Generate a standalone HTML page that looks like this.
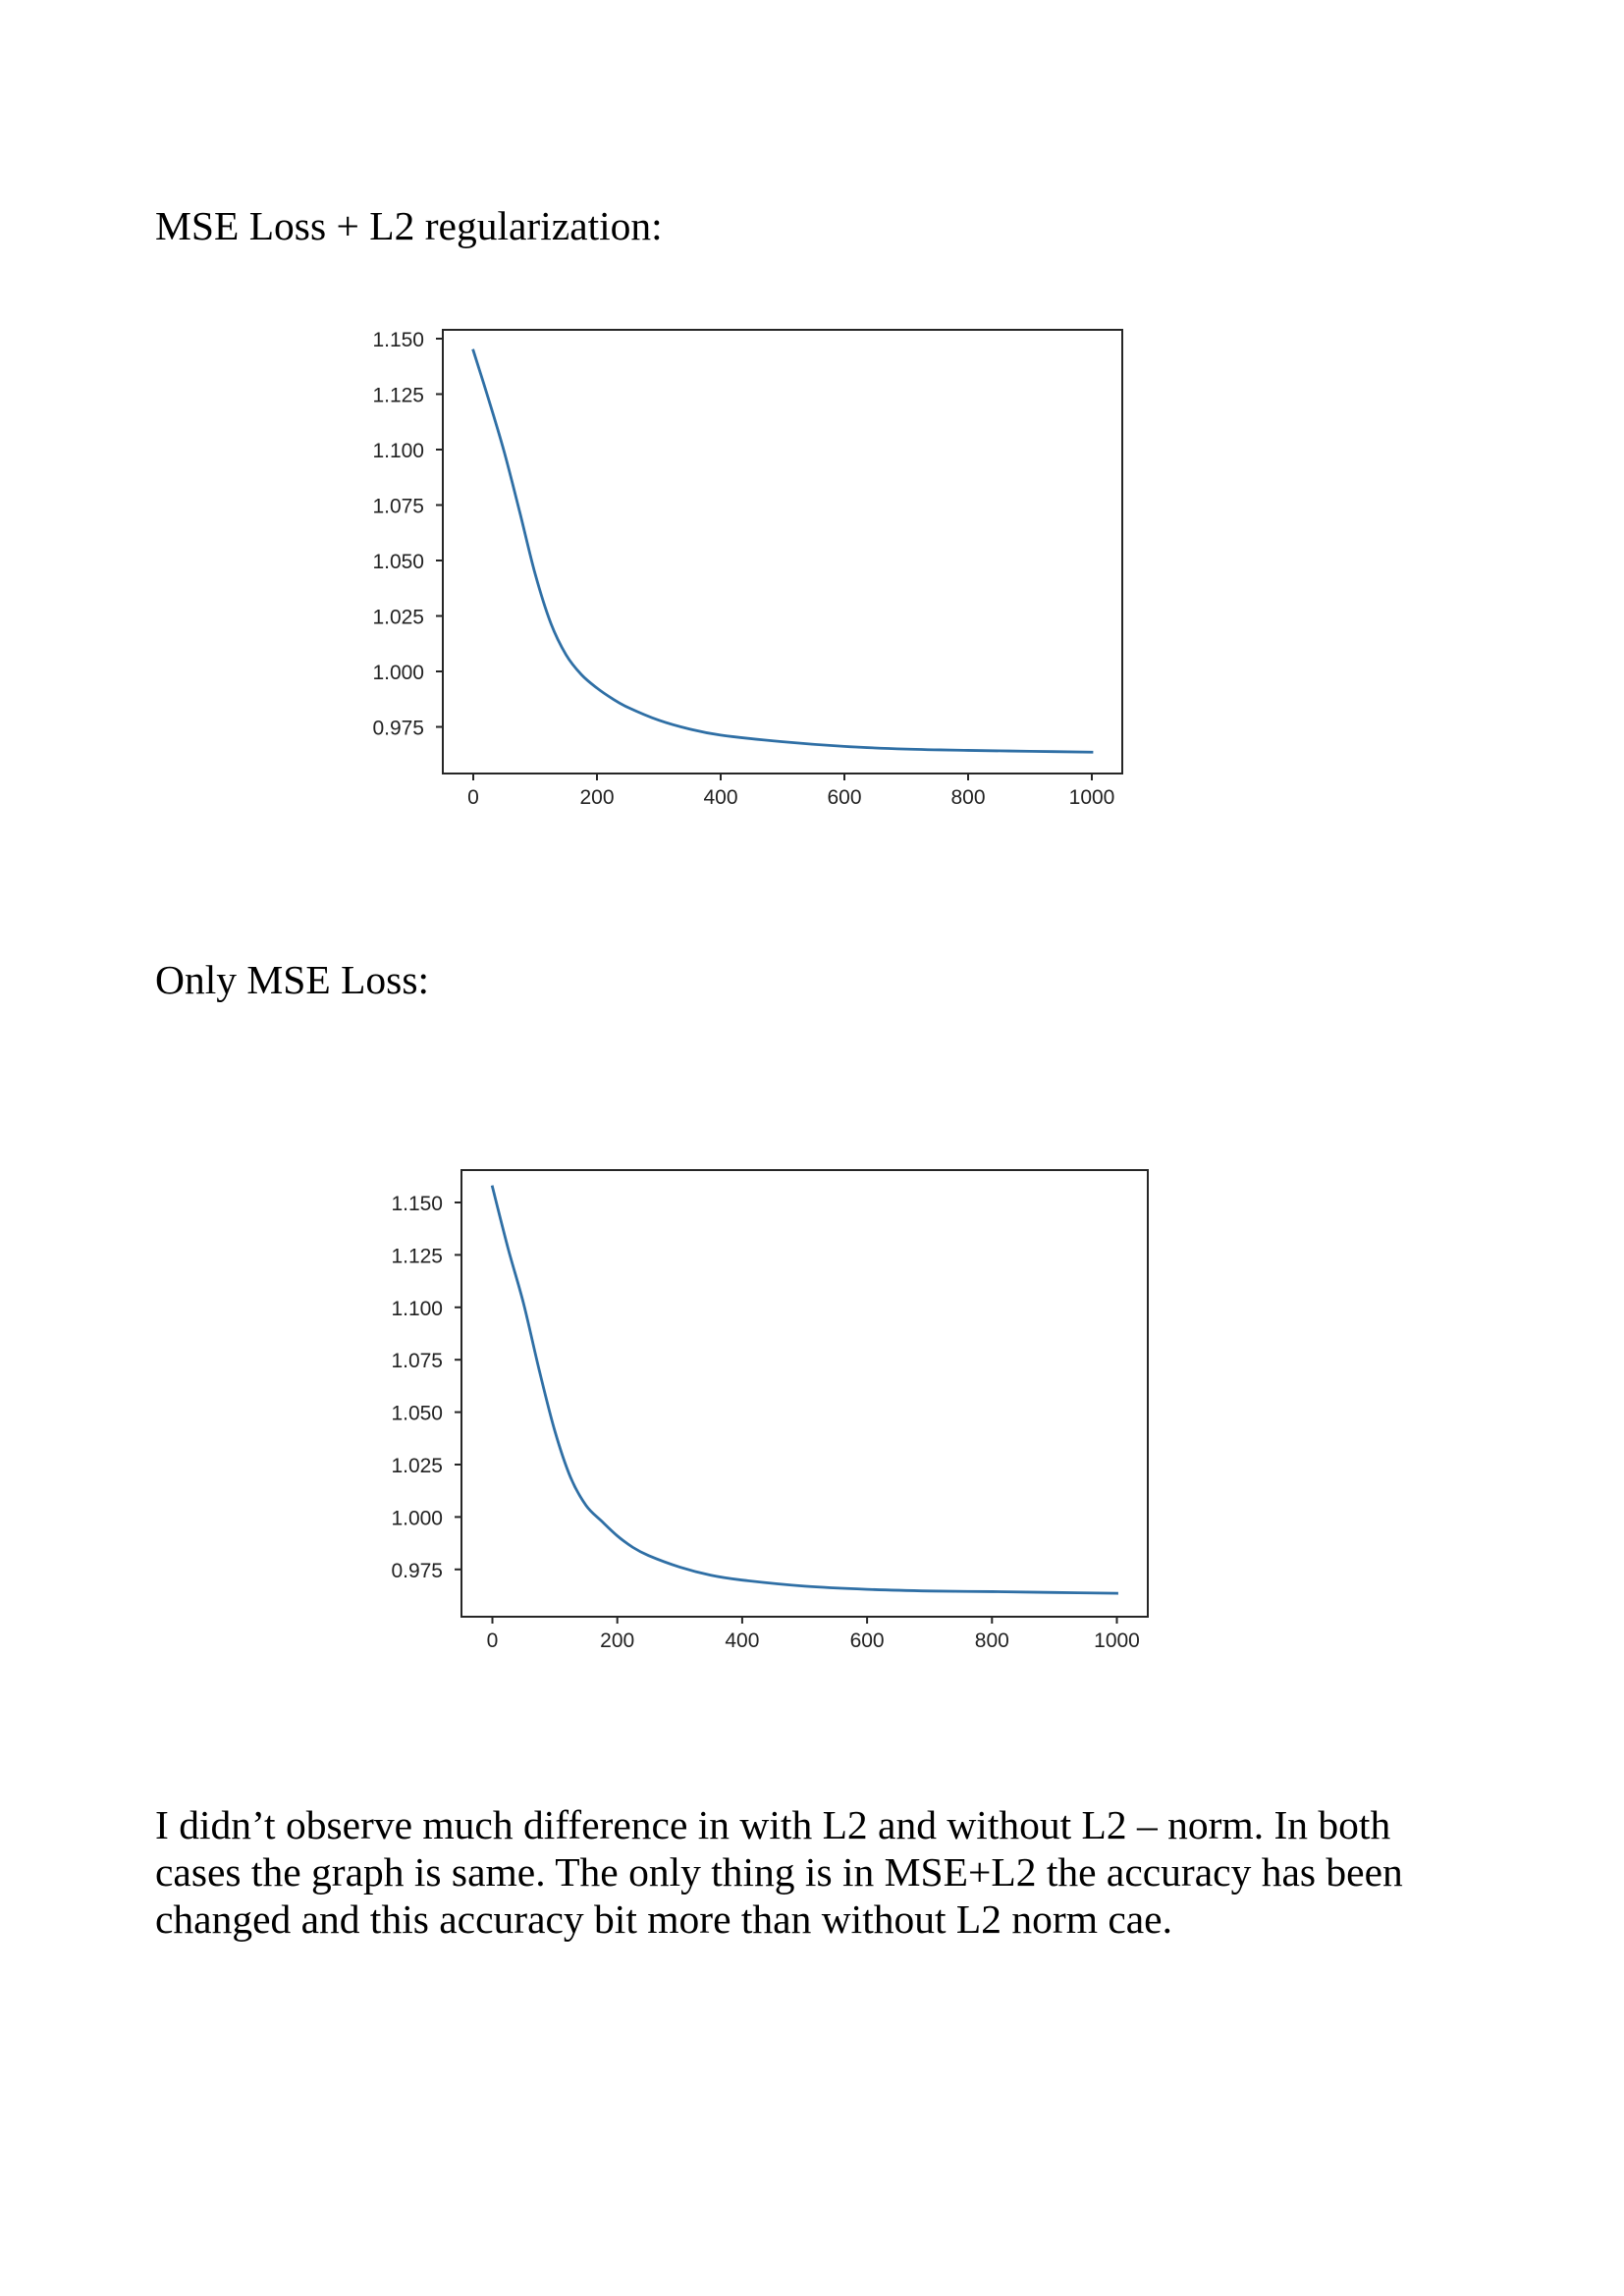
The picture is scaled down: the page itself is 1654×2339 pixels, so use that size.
<!DOCTYPE html>
<html><head><meta charset="utf-8"><style>
html,body{margin:0;padding:0;background:#fff;}
svg{display:block;}
.h{font-family:"Liberation Serif",serif;font-size:41.5px;fill:#000;}
.t{font-family:"Liberation Sans",sans-serif;font-size:21px;fill:#222;}
</style></head><body>
<svg id="page" width="1654" height="2339" viewBox="0 0 1654 2339" xmlns="http://www.w3.org/2000/svg">
<text class="h" x="158" y="244">MSE Loss + L2 regularization:</text>
<text class="h" x="158" y="1012">Only MSE Loss:</text>
<g>
<text class="h" x="158" y="1873">I didn’t observe much difference in with L2 and without L2 – norm. In both</text>
<text class="h" x="158" y="1921">cases the graph is same. The only thing is in MSE+L2 the accuracy has been</text>
<text class="h" x="158" y="1969">changed and this accuracy bit more than without L2 norm cae.</text>
</g>
<g id="chart1"></g>
<g id="chart2"></g>
</svg>
<script>
const xTicks = [0, 200, 400, 600, 800, 1000];
const yTicks = [1.150, 1.125, 1.100, 1.075, 1.050, 1.025, 1.000, 0.975];
const yTickLabels = ["1.150","1.125","1.100","1.075","1.050","1.025","1.000","0.975"];
const epochs = [0, 25, 50, 75, 100, 125, 150, 175, 200, 225, 250, 300, 350, 400, 500, 600, 700, 800, 900, 1000];
const lossL2 = [1.1447, 1.1225, 1.099, 1.072, 1.044, 1.022, 1.0075, 0.9985, 0.9925, 0.9877, 0.9838, 0.978, 0.974, 0.9713, 0.9683, 0.9662, 0.9650, 0.9644, 0.9640, 0.9636];
const lossMSE = [1.1575, 1.1282, 1.1017, 1.070, 1.041, 1.019, 1.0055, 0.998, 0.991, 0.9855, 0.9816, 0.9761, 0.9722, 0.9699, 0.9670, 0.9655, 0.9647, 0.9644, 0.9640, 0.9636];

const NS = "http://www.w3.org/2000/svg";
function mk(tag, attrs, parent){const e=document.createElementNS(NS,tag);for(const k in attrs)e.setAttribute(k,attrs[k]);parent.appendChild(e);return e;}

function drawChart(g, cfg, ys, prefix){
  const sx = v => cfg.x0 + v*(cfg.x1000-cfg.x0)/1000;
  const sy = v => cfg.y150 + (1.150 - v)/0.025*cfg.ystep;
  const frame = mk("rect",{x:cfg.L,y:cfg.T,width:cfg.R-cfg.L,height:cfg.B-cfg.T,fill:"none",stroke:"#262626","stroke-width":2},g);
  
  
  xTicks.forEach(v=>{
    const tk = mk("line",{x1:sx(v),x2:sx(v),y1:cfg.B,y2:cfg.B+7,stroke:"#262626","stroke-width":2},g);
    
    
    const lb = mk("text",{x:sx(v),y:cfg.B+31,"text-anchor":"middle",class:"t"},g);
    lb.textContent = String(v);
    
    
  });
  yTicks.forEach((v,i)=>{
    const tk = mk("line",{x1:cfg.L-7,x2:cfg.L,y1:sy(v),y2:sy(v),stroke:"#262626","stroke-width":2},g);
    
    
    const lb = mk("text",{x:cfg.L-19,y:sy(v)+8,"text-anchor":"end",class:"t"},g);
    lb.textContent = yTickLabels[i];
    
    
  });
  const pts = epochs.map((e,i)=>[sx(e),sy(ys[i])]);
  let d = "M"+pts[0][0]+","+pts[0][1];
  for(let i=1;i<pts.length;i++){
    const p0=pts[Math.max(0,i-2)],p1=pts[i-1],p2=pts[i],p3=pts[Math.min(pts.length-1,i+1)];
    const c1x=p1[0]+(p2[0]-p0[0])/6,c1y=p1[1]+(p2[1]-p0[1])/6;
    const c2x=p2[0]-(p3[0]-p1[0])/6,c2y=p2[1]-(p3[1]-p1[1])/6;
    d+=" C"+c1x+","+c1y+" "+c2x+","+c2y+" "+p2[0]+","+p2[1];
  }
  const line = mk("path",{d:d,fill:"none",stroke:"#2f6fa5","stroke-width":2.8,"stroke-linecap":"square","stroke-linejoin":"round"},g);
  
  
}
drawChart(document.getElementById("chart1"),{L:451,R:1143,T:336,B:788,x0:482,x1000:1112,y150:345,ystep:56.5},lossL2,"chart1");
drawChart(document.getElementById("chart2"),{L:470,R:1169,T:1192,B:1647,x0:501.5,x1000:1137.5,y150:1225,ystep:53.4},lossMSE,"chart2");
</script>
</body></html>
